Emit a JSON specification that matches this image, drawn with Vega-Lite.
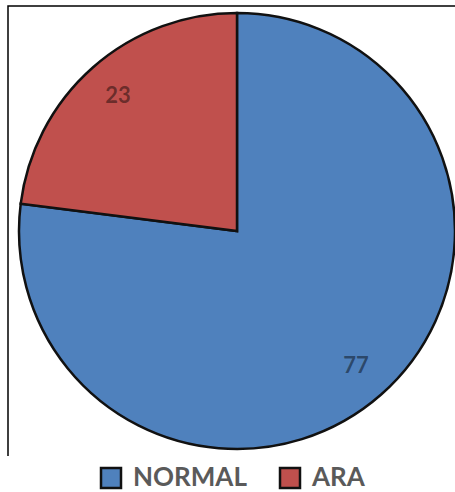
{
  "$schema": "https://vega.github.io/schema/vega-lite/v6.json",
  "width": 458,
  "height": 450,
  "autosize": {"type": "none"},
  "padding": {"left": 8, "top": 6, "right": 0, "bottom": 36},
  "background": "white",
  "view": {"stroke": "#000000", "strokeWidth": 1.5, "strokeDash": [458, 908, 450]},
  "config": {
    "font": "Lato"
  },
  "data": {
    "values": [
      {"category": "NORMAL", "value": 77},
      {"category": "ARA", "value": 23}
    ]
  },
  "encoding": {
    "theta": {"field": "value", "type": "quantitative", "stack": true},
    "order": {"field": "value", "type": "quantitative", "sort": "descending"},
    "color": {
      "field": "category",
      "type": "nominal",
      "scale": {"domain": ["NORMAL", "ARA"], "range": ["#4F81BD", "#C0504D"]},
      "legend": {
        "title": null,
        "orient": "none",
        "legendX": 90,
        "legendY": 459,
        "direction": "horizontal",
        "symbolType": "square",
        "symbolSize": 400,
        "symbolStrokeColor": "#111111",
        "symbolStrokeWidth": 2.5,
        "symbolOpacity": 1,
        "labelFontSize": 26,
        "labelFontWeight": "bold",
        "labelFont": "Lato",
        "labelColor": "#5a5a5a",
        "labelOffset": 9,
        "columnPadding": 28
      }
    }
  },
  "layer": [
    {
      "mark": {"type": "arc", "outerRadius": 218, "stroke": "#111111", "strokeWidth": 2.5}
    },
    {
      "mark": {"type": "text", "radius": 180, "fontSize": 22, "fontWeight": "bold", "font": "Lato", "fill": "#000000", "fillOpacity": 0.45},
      "encoding": {
        "text": {"field": "value", "type": "quantitative"},
        "color": {"value": "#000000"}
      }
    }
  ]
}
